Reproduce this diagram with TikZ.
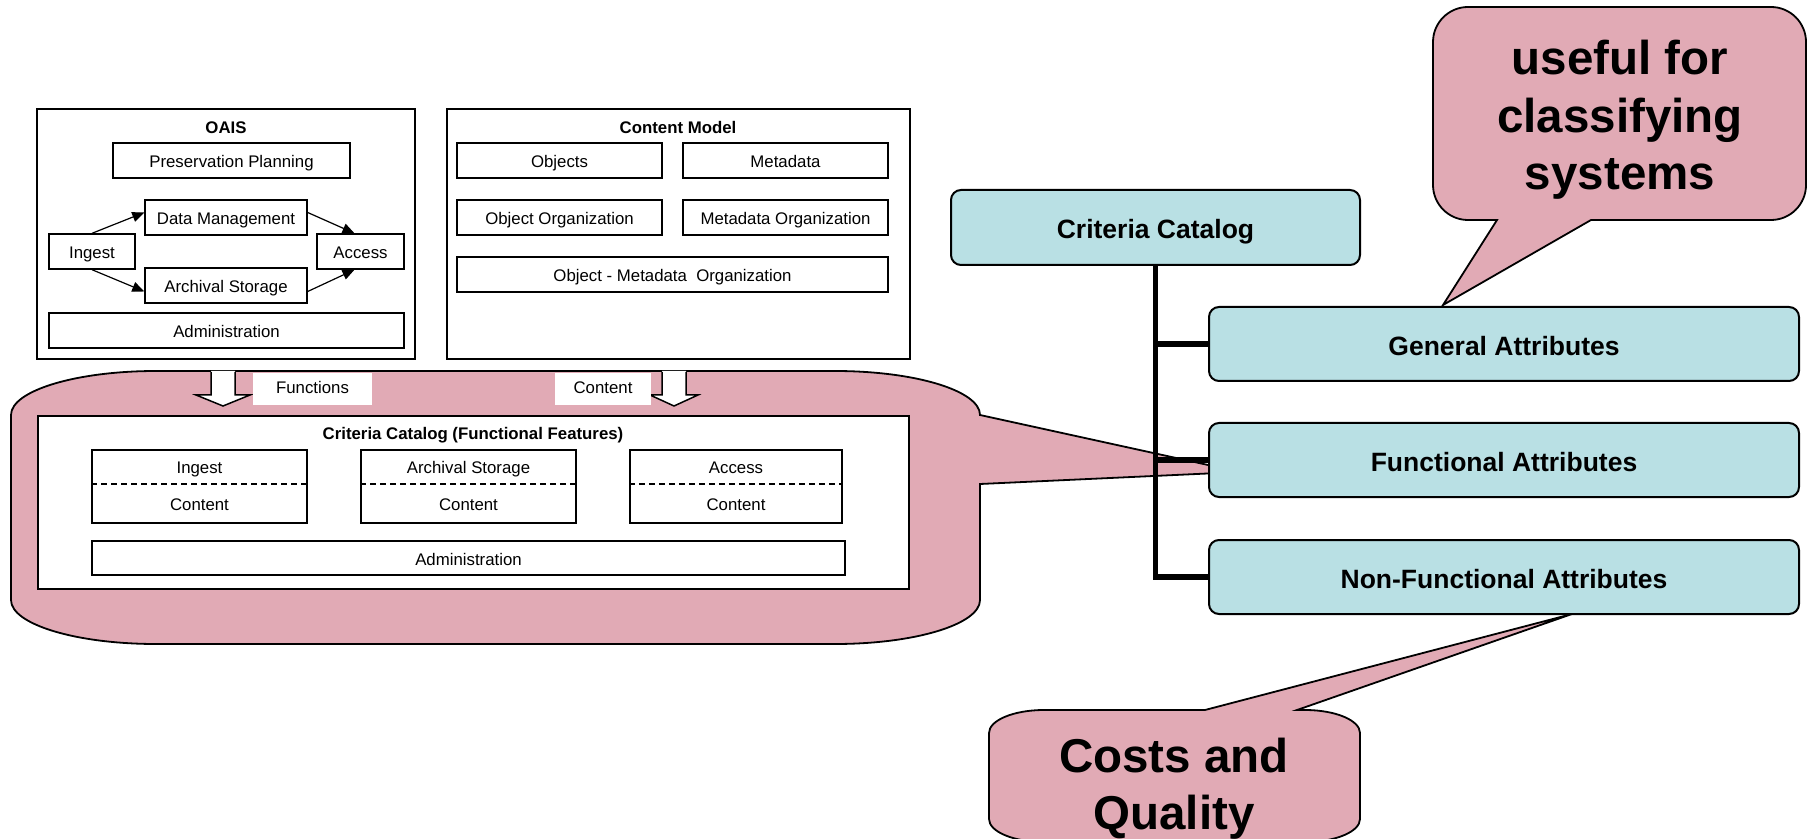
\documentclass[tikz,border=0pt]{standalone}
\usepackage{fontspec}
\setmainfont{Liberation Sans}
\usetikzlibrary{arrows.meta,calc}
\definecolor{calloutpink}{RGB}{225,170,181}
\definecolor{boxteal}{RGB}{185,224,228}
\newcommand\mkbox[7][]{%
  \node[#1, minimum width={(#4-#2)*0.5pt}, minimum height={(#5-#3)*0.5pt}] (#6) at ({(#2+#4)/2},{(#3+#5)/2}) {#7};}
\begin{document}
\begin{tikzpicture}[x=0.5pt,y=-0.5pt,
  smallbox/.style={draw, line width=0.7pt, fill=white, inner sep=0pt, font=\fontsize{8.4}{10}\selectfont, text height=7.6pt, text depth=0.4pt},
  framebox/.style={draw, line width=0.75pt, fill=white, inner sep=0pt},
  stext/.style={inner sep=0pt, font=\fontsize{8.4}{10}\selectfont, text height=7.6pt, text depth=0.4pt},
  ttext/.style={inner sep=0pt, font=\fontsize{8.4}{10}\selectfont\bfseries, text height=7.6pt, text depth=0.4pt},
  attrbox/.style={draw, line width=1pt, fill=boxteal, rounded corners=5pt, inner sep=0pt, font=\fontsize{13.25}{16}\selectfont\bfseries, text height=12pt, text depth=0.6pt},
  callout/.style={draw, line width=0.9pt, fill=calloutpink, line join=miter},
  calltext/.style={inner sep=0pt, align=center, font=\fontsize{23.75}{28.75}\selectfont\bfseries},
  tree/.style={line width=2.6pt},
  flow/.style={-{Triangle[length=6pt,width=5pt]}, line width=0.6pt},
  hollow/.style={line width=0.75pt},
  tag/.style={fill=white, inner sep=0pt},
  splitline/.style={dashed, dash pattern=on 3pt off 2pt, line width=0.7pt}
]
\useasboundingbox (0,0) rectangle (1809,839);
\fill[white] (0,0) rectangle (1809,839);

% ---------- callouts ----------
\path[callout] (156,371) -- (835,371) .. controls (915,371) and (980,390.7) .. (980,415)
  -- (1240,472) -- (980,484) -- (980,600) .. controls (980,624.3) and (915,644) .. (835,644)
  -- (156,644) .. controls (76,644) and (11,624.3) .. (11,600) -- (11,415)
  .. controls (11,390.7) and (76,371) .. (156,371) -- cycle;

\path[callout] (1591,220) -- (1771,220) .. controls (1790.3,220) and (1806,204.3) .. (1806,185)
  -- (1806,42) .. controls (1806,22.7) and (1790.3,7) .. (1771,7) -- (1468,7)
  .. controls (1448.7,7) and (1433,22.7) .. (1433,42) -- (1433,185)
  .. controls (1433,204.3) and (1448.7,220) .. (1468,220) -- (1497,220) -- (1443,305) -- cycle;
\node[calltext] (useful) at (1620,120) {useful for\\classifying\\systems};

\path[callout] (1297,710) -- (1305,710) .. controls (1335.4,710) and (1360,720.3) .. (1360,733)
  -- (1360,819) .. controls (1360,831.7) and (1335.4,842) .. (1305,842) -- (1044,842)
  .. controls (1013.6,842) and (989,831.7) .. (989,819) -- (989,733)
  .. controls (989,720.3) and (1013.6,710) .. (1044,710) -- (1205,710) -- (1572,614) -- cycle;
\node[calltext, font=\fontsize{23.75}{28.5}\selectfont\bfseries] (costs) at (1174,789) {Costs and\\Quality};

% ---------- OAIS ----------
\mkbox[framebox]{37}{109}{415}{359}{oais}{}
\node[ttext] (oaistitle) at (226,126) {OAIS};
\mkbox[smallbox]{113}{143}{350}{178}{pp}{Preservation Planning}
\mkbox[smallbox]{145}{200}{307}{235}{dm}{Data Management}
\mkbox[smallbox]{49}{234}{135}{269}{ing}{Ingest}
\mkbox[smallbox]{317}{234}{404}{269}{acc}{Access}
\mkbox[smallbox]{145}{268}{307}{303}{as}{Archival Storage}
\mkbox[smallbox]{49}{313}{404}{348}{adm}{Administration}
\draw[flow] (ing.north) -- ([yshift=2.5pt]dm.west);
\draw[flow] (ing.south) -- ([yshift=-3pt]as.west);
\draw[flow] ([yshift=2.5pt]dm.east) -- ([xshift=-3pt]acc.north);
\draw[flow] ([yshift=-3pt]as.east) -- ([xshift=-3pt]acc.south);

% ---------- Content Model ----------
\mkbox[framebox]{447}{109}{910}{359}{cm}{}
\node[ttext] (cmtitle) at (678,126) {Content Model};
\mkbox[smallbox]{457}{143}{662}{178}{obj}{Objects}
\mkbox[smallbox]{683}{143}{888}{178}{md}{Metadata}
\mkbox[smallbox]{457}{200}{662}{235}{oo}{Object Organization}
\mkbox[smallbox]{683}{200}{888}{235}{mo}{Metadata Organization}
\mkbox[smallbox]{457}{257}{888}{292}{omo}{Object - Metadata\ \ Organization}

% ---------- hollow arrows and tags ----------
\fill[white] (211,371) -- (211,395) -- (196,395) -- (223,406) -- (250,395) -- (235,395) -- (235,371) -- cycle;
\draw[hollow] (211,372) -- (211,395) -- (196,395) -- (223,406) -- (250,395) -- (235,395) -- (235,372);
\fill[white] (662,371) -- (662,395) -- (650,395) -- (674,406) -- (698,395) -- (686,395) -- (686,371) -- cycle;
\draw[hollow] (662,372) -- (662,395) -- (650,395) -- (674,406) -- (698,395) -- (686,395) -- (686,372);
\mkbox[tag]{253}{373}{372}{405}{functionsbox}{}
\node[stext] (functions) at (312.5,386) {Functions};
\mkbox[tag]{555}{373}{651}{405}{contentbox}{}
\node[stext] (content) at (603,386) {Content};

% ---------- Criteria Catalog (Functional Features) ----------
\mkbox[framebox]{38}{416}{909}{589}{ccf}{}
\node[ttext] (ccftitle) at (473,432) {Criteria Catalog (Functional Features)};
\coordinate (dashy) at (0,484);
\mkbox[smallbox]{92}{450}{307}{523}{ingb}{}
\node[stext] (ingbt) at (199.5,466) {Ingest};
\node[stext] (ingbc) at (199.5,503) {Content};
\draw[splitline] (ingb.west |- dashy) -- (ingb.east |- dashy);
\mkbox[smallbox]{361}{450}{576}{523}{asb}{}
\node[stext] (asbt) at (468.5,466) {Archival Storage};
\node[stext] (asbc) at (468.5,503) {Content};
\draw[splitline] (asb.west |- dashy) -- (asb.east |- dashy);
\mkbox[smallbox]{630}{450}{842}{523}{accb}{}
\node[stext] (accbt) at (736,466) {Access};
\node[stext] (accbc) at (736,503) {Content};
\draw[splitline] (accb.west |- dashy) -- (accb.east |- dashy);
\mkbox[smallbox]{92}{541}{845}{575}{admb}{Administration}

% ---------- tree ----------
\draw[tree] (1155.5,265) -- (1155.5,577) -- (1209,577);
\draw[tree] (1155.5,344) -- (1209,344);
\draw[tree] (1155.5,460) -- (1209,460);
\mkbox[attrbox]{951}{190}{1360}{265}{cc}{Criteria Catalog}
\mkbox[attrbox]{1209}{307}{1799}{381}{ga}{General Attributes}
\mkbox[attrbox]{1209}{423}{1799}{497}{fa}{Functional Attributes}
\mkbox[attrbox]{1209}{540}{1799}{614}{nf}{Non-Functional Attributes}
\end{tikzpicture}
\end{document}
